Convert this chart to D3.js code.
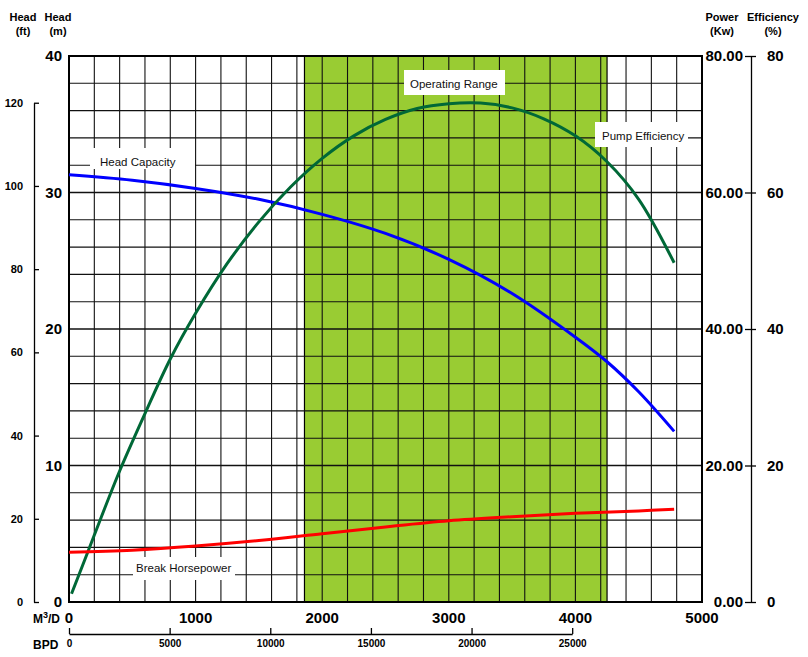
<!DOCTYPE html>
<html><head><meta charset="utf-8">
<script src="https://cdn.jsdelivr.net/npm/d3@7"></script>
<style>
body{margin:0;background:#fff;}
text{font-family:"Liberation Sans",Arial,sans-serif;}
</style>
</head><body>
<svg id="c" width="808" height="657"></svg>
<script>
// ---- data ----
const headQ = [0, 500, 1000, 1500, 2000, 2500, 3000, 3500, 4000, 4250, 4500, 4780];
const headM = [31.3, 30.9, 30.3, 29.5, 28.4, 27.0, 25.1, 22.6, 19.4, 17.6, 15.4, 12.5];
const effQ = [20, 150, 250, 400, 600, 800, 1000, 1250, 1500, 1750, 2000, 2250, 2500, 2750, 3000, 3250, 3500, 3750, 4000, 4250, 4500, 4780];
const effPct = [1.2, 7.4, 12.2, 19.2, 27.6, 35.6, 42.3, 49.6, 55.7, 60.8, 65.0, 68.3, 70.7, 72.3, 73.0, 73.1, 72.4, 70.8, 68.3, 64.5, 59.0, 49.7];
const powQ = [0, 500, 1000, 1500, 2000, 2500, 3000, 3500, 4000, 4500, 4780];
const powKw = [7.3, 7.6, 8.2, 9.0, 10.0, 11.0, 11.9, 12.5, 13.0, 13.35, 13.6];
const operatingRange = [1860, 4250];
const m3dTicks = [0, 1000, 2000, 3000, 4000, 5000];
const bpdTicks = [0, 5000, 10000, 15000, 20000, 25000];
const headMTicks = [0, 10, 20, 30, 40];
const headFtTicks = [0, 20, 40, 60, 80, 100, 120];
const powerTicks = [0, 20, 40, 60, 80];
const effTicks = [0, 20, 40, 60, 80];
const labels = {head: "Head Capacity", eff: "Pump Efficiency", pow: "Break Horsepower", range: "Operating Range"};

const svg = d3.select("#c");
const L = 69, R = 702, T = 56, B = 602;
const x = d3.scaleLinear().domain([0, 5000]).range([L, R]);
const yM = d3.scaleLinear().domain([0, 40]).range([B, T]);
const yP = d3.scaleLinear().domain([0, 80]).range([B, T]);
const FT = 3.28084;
const yFt = d3.scaleLinear().domain([0, 120]).range([B, yM(120 / FT)]);
const BPD = 6.2898;
const xB = d3.scaleLinear().domain([0, 25000]).range([L, x(25000 / BPD)]);

// operating range
svg.append("rect").attr("x", x(operatingRange[0])).attr("y", T)
  .attr("width", x(operatingRange[1]) - x(operatingRange[0])).attr("height", B - T)
  .attr("fill", "#99cc33");
[operatingRange[0], operatingRange[1]].forEach(v => {
  svg.append("line").attr("x1", x(v)).attr("x2", x(v)).attr("y1", T).attr("y2", B)
    .attr("stroke", "#000").attr("stroke-width", 1.2);
});

// grid
const g = svg.append("g").attr("stroke", "#111").attr("stroke-width", 1.1);
d3.range(200, 5000, 200).forEach(v => {
  g.append("line").attr("x1", x(v)).attr("x2", x(v)).attr("y1", T).attr("y2", B);
});
d3.range(2, 40, 2).forEach(v => {
  g.append("line").attr("x1", L).attr("x2", R).attr("y1", yM(v)).attr("y2", yM(v))
    .attr("stroke-width", v % 10 === 0 ? 1.6 : 1.1);
});
// frame
svg.append("rect").attr("x", L).attr("y", T).attr("width", R - L).attr("height", B - T)
  .attr("fill", "none").attr("stroke", "#000").attr("stroke-width", 2);

// label boxes (white) drawn before curves
function labelBox(x0, y0, w, h, txt, tx, ty) {
  svg.append("rect").attr("x", x0).attr("y", y0).attr("width", w).attr("height", h).attr("fill", "#fff");
  svg.append("text").attr("x", tx).attr("y", ty).attr("font-size", 11.5).attr("fill", "#111").text(txt);
}
labelBox(90, 148, 105, 21, labels.head, 100, 166);
labelBox(133, 557, 102, 23, labels.pow, 136, 572);
labelBox(404, 70, 101, 25, labels.range, 410, 88);
labelBox(595, 122, 93, 25, labels.eff, 602, 140);

// curves
const line = (ys) => d3.line().x(d => x(d[0])).y(d => ys(d[1])).curve(d3.curveCatmullRom.alpha(0.5));
svg.append("path").datum(headQ.map((q, i) => [q, headM[i]]))
  .attr("d", line(yM)).attr("fill", "none").attr("stroke", "#0000ff").attr("stroke-width", 3);
svg.append("path").datum(effQ.map((q, i) => [q, effPct[i]]))
  .attr("d", line(yP)).attr("fill", "none").attr("stroke", "#006837").attr("stroke-width", 3);
svg.append("path").datum(powQ.map((q, i) => [q, powKw[i]]))
  .attr("d", line(yP)).attr("fill", "none").attr("stroke", "#ff0000").attr("stroke-width", 3);

// left m labels
headMTicks.forEach(v => {
  svg.append("text").attr("x", 62).attr("y", yM(v)).attr("dy", "0.36em")
    .attr("text-anchor", "end").attr("font-size", 15).attr("font-weight", "bold").text(v);
});

// ft axis
const ftAxis = d3.axisLeft(yFt).tickValues(headFtTicks).tickSize(-5).tickSizeOuter(0).tickPadding(11);
const fa = svg.append("g").attr("transform", "translate(34,0)").call(ftAxis);
fa.select(".domain").attr("stroke", "#000").attr("stroke-width", 1.3);
fa.selectAll(".tick line").attr("stroke", "#000").attr("stroke-width", 1.3);
fa.selectAll(".tick text").attr("font-size", 11).attr("font-weight", "bold").attr("fill", "#000")
  .style("font-family", "Liberation Sans, Arial, sans-serif");

// right efficiency axis
const effAxis = d3.axisRight(yP).tickValues(effTicks).tickSize(5).tickSizeOuter(0).tickPadding(11);
const ea = svg.append("g").attr("transform", "translate(751,0)").call(effAxis);
ea.select(".domain").attr("stroke", "#000").attr("stroke-width", 1.3);
ea.selectAll(".tick line").attr("x1", -6).attr("stroke", "#000").attr("stroke-width", 1.3);
ea.selectAll(".tick text").attr("font-size", 15).attr("font-weight", "bold").attr("fill", "#000")
  .style("font-family", "Liberation Sans, Arial, sans-serif");

// power labels
powerTicks.forEach(v => {
  svg.append("text").attr("x", 743).attr("y", yP(v)).attr("dy", "0.36em")
    .attr("text-anchor", "end").attr("font-size", 15).attr("font-weight", "bold").text(v.toFixed(2));
});

// bottom m3/d labels
m3dTicks.forEach(v => {
  svg.append("text").attr("x", x(v)).attr("y", 623).attr("text-anchor", "middle")
    .attr("font-size", 15).attr("font-weight", "bold").text(v);
});
const m3 = svg.append("text").attr("x", 33).attr("y", 623).attr("font-size", 12).attr("font-weight", "bold");
m3.append("tspan").text("M");
m3.append("tspan").attr("font-size", 9).attr("dy", -5).text("3");
m3.append("tspan").attr("dy", 5).text("/D");

// BPD axis
const bAxis = d3.axisBottom(xB).tickValues(bpdTicks).tickFormat(d3.format("d"))
  .tickSize(-6).tickSizeOuter(0).tickPadding(6);
const ba = svg.append("g").attr("transform", "translate(0,634)").call(bAxis);
ba.select(".domain").attr("stroke", "#000").attr("stroke-width", 1.3);
ba.selectAll(".tick line").attr("stroke", "#000").attr("stroke-width", 1.3);
ba.selectAll(".tick text").attr("font-size", 10).attr("font-weight", "bold").attr("fill", "#000")
  .style("font-family", "Liberation Sans, Arial, sans-serif");
svg.append("text").attr("x", 33).attr("y", 649).attr("font-size", 12).attr("font-weight", "bold").text("BPD");

// headers
function header(cx, l1, l2) {
  svg.append("text").attr("x", cx).attr("y", 21).attr("text-anchor", "middle")
    .attr("font-size", 11).attr("font-weight", "bold").text(l1);
  svg.append("text").attr("x", cx).attr("y", 35).attr("text-anchor", "middle")
    .attr("font-size", 11).attr("font-weight", "bold").text(l2);
}
header(23, "Head", "(ft)");
header(58, "Head", "(m)");
header(722, "Power", "(Kw)");
header(773, "Efficiency", "(%)");
</script>
</body></html>
